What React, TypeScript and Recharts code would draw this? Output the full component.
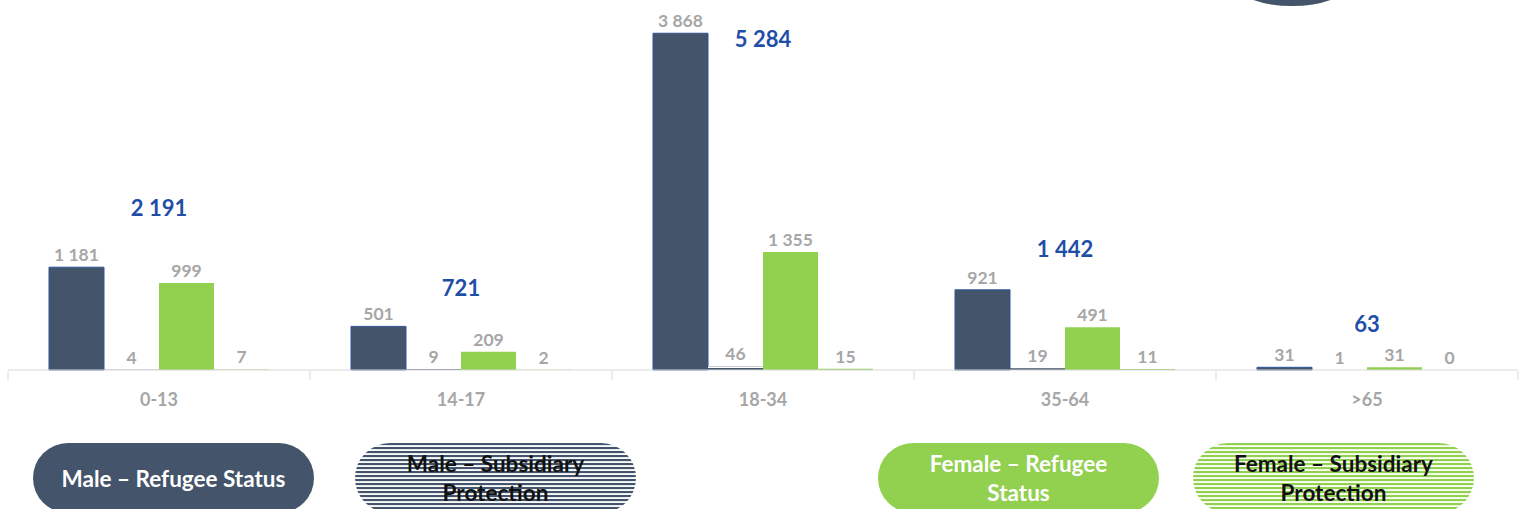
import { Bar, LabelList, Line, XAxis, YAxis, ComposedChart } from "recharts";

// age groups and counts per status
const ageGroups = ["0-13", "14-17", "18-34", "35-64", ">65"];
const maleRefugee = [1181, 501, 3868, 921, 31];
const maleSubsidiary = [4, 9, 46, 19, 1];
const femaleRefugee = [999, 209, 1355, 491, 31];
const femaleSubsidiary = [7, 2, 15, 11, 0];
const totals = [2191, 721, 5284, 1442, 63];

const data = ageGroups.map((age, i) => ({
  age,
  maleRefugee: maleRefugee[i],
  maleSubsidiary: maleSubsidiary[i],
  femaleRefugee: femaleRefugee[i],
  femaleSubsidiary: femaleSubsidiary[i],
  total: totals[i],
}));

const W = 1520;
const H = 509;
const M = { top: 0, right: 2, left: 8, bottom: 0 };
const SLOT = (W - M.left - M.right) / ageGroups.length;

const NAVY = "#44546a";
const GREEN = "#92d050";
const GRAY = "#a6a6a6";
const BLUE = "#1f4ea8";
const FONT = "Lato, 'Open Sans', sans-serif";

const fmt = (v: any) => String(v).replace(/\B(?=(\d{3})+(?!\d))/g, " ");

const AgeTick = ({ x, y, payload, index }: any) => (
  <g>
    <line x1={x - SLOT / 2} x2={x - SLOT / 2} y1={y - 1} y2={y + 8} stroke="#d9d9d9" />
    {index === ageGroups.length - 1 && (
      <line x1={x + SLOT / 2} x2={x + SLOT / 2} y1={y - 1} y2={y + 8} stroke="#d9d9d9" />
    )}
    <text x={x} y={y + 27} textAnchor="middle" dominantBaseline="central" fill={GRAY} fontSize={18} fontWeight={700} fontFamily={FONT}>
      {payload.value}
    </text>
  </g>
);

const TotalLabel = ({ x, y, value }: any) => (
  <text x={x} y={y} textAnchor="middle" dominantBaseline="central" fill={BLUE} fontSize={22} fontWeight={700} fontFamily={FONT}>
    {fmt(value)}
  </text>
);

const valueLabel = { position: "top" as const, offset: 6, fill: GRAY, fontSize: 17.5, fontWeight: 700, fontFamily: FONT, formatter: fmt };

// keep zero bars in the layout so their label still shows
const keepZero = (v: any) => (v === 0 ? 0.01 : 0);

const pill = (left: number, bg: string, color: string, lines: string[]) => (
  <div
    style={{
      position: "absolute",
      left,
      top: 443,
      width: 281,
      height: 70,
      borderRadius: 35,
      background: bg,
      color,
      fontFamily: FONT,
      fontWeight: 700,
      fontSize: 22.5,
      lineHeight: "29px",
      display: "flex",
      flexDirection: "column",
      alignItems: "center",
      justifyContent: "center",
      textAlign: "center",
    }}
  >
    {lines.map((l) => (
      <div key={l}>{l}</div>
    ))}
  </div>
);

const navyStripes = `repeating-linear-gradient(to bottom, ${NAVY} 0px, ${NAVY} 2px, #dfe4ea 2px, #ffffff 4px)`;
const greenStripes = `repeating-linear-gradient(to bottom, ${GREEN} 0px, ${GREEN} 2px, #e4f3d2 2px, #ffffff 4px)`;

export default function App() {
  return (
    <div style={{ position: "absolute", left: 0, top: 0, width: W, height: H, overflow: "hidden", background: "#fff" }}>
      <div
        style={{
          position: "absolute",
          left: 1237,
          top: -36,
          width: 110,
          height: 42,
          borderRadius: "50%",
          background: NAVY,
        }}
      />
      <ComposedChart width={W} height={H} data={data} margin={M} barCategoryGap={41} barGap={0}>
        <defs>
          <pattern id="navyStripe" width="4" height="4" patternUnits="userSpaceOnUse">
            <rect width="4" height="4" fill="#ffffff" />
            <rect width="4" height="2" fill={NAVY} />
            <rect y="2" width="4" height="1" fill="#c9d1dc" />
          </pattern>
          <pattern id="greenStripe" width="4" height="4" patternUnits="userSpaceOnUse">
            <rect width="4" height="4" fill="#ffffff" />
            <rect width="4" height="2" fill={GREEN} />
            <rect y="2" width="4" height="1" fill="#d8edc2" />
          </pattern>
        </defs>
        <XAxis
          dataKey="age"
          height={139}
          axisLine={{ stroke: "#d9d9d9" }}
          tickLine={false}
          tickSize={0}
          tick={<AgeTick />}
          interval={0}
        />
        <YAxis hide domain={[0, 4250]} />
        <YAxis yAxisId="total" hide domain={[-791, 5998]} />
        <Bar dataKey="maleRefugee" fill={NAVY} stroke="#2f5597" strokeWidth={1} isAnimationActive={false}>
          <LabelList dataKey="maleRefugee" {...valueLabel} />
        </Bar>
        <Bar dataKey="maleSubsidiary" fill="url(#navyStripe)" minPointSize={keepZero} isAnimationActive={false}>
          <LabelList dataKey="maleSubsidiary" {...valueLabel} />
        </Bar>
        <Bar dataKey="femaleRefugee" fill={GREEN} isAnimationActive={false}>
          <LabelList dataKey="femaleRefugee" {...valueLabel} />
        </Bar>
        <Bar dataKey="femaleSubsidiary" fill="url(#greenStripe)" minPointSize={keepZero} isAnimationActive={false}>
          <LabelList dataKey="femaleSubsidiary" {...valueLabel} />
        </Bar>
        <Line
          yAxisId="total"
          dataKey="total"
          stroke="none"
          dot={false}
          activeDot={false}
          label={<TotalLabel />}
          isAnimationActive={false}
        />
      </ComposedChart>
      {pill(33, NAVY, "#ffffff", ["Male – Refugee Status"])}
      {pill(355, navyStripes, "#111111", ["Male – Subsidiary", "Protection"])}
      {pill(878, GREEN, "#ffffff", ["Female – Refugee", "Status"])}
      {pill(1193, greenStripes, "#111111", ["Female – Subsidiary", "Protection"])}
    </div>
  );
}
